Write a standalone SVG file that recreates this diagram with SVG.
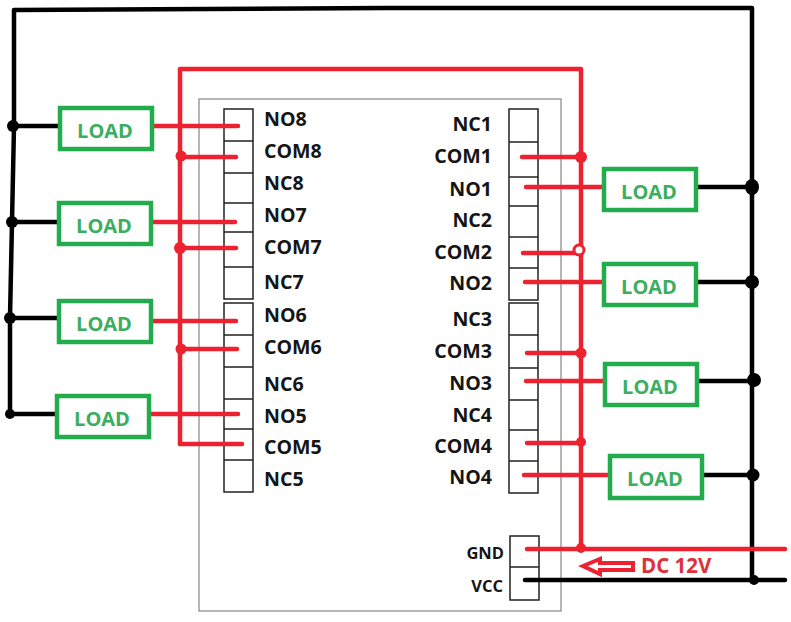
<svg xmlns="http://www.w3.org/2000/svg" width="791" height="622" viewBox="0 0 791 622">
<style>
.bg{fill:#fff}
.mod{fill:none;stroke:#858585;stroke-width:1.2}
.term{fill:#fff;stroke:#222;stroke-width:1.5}
.load{fill:#fff;stroke:#22ac4c;stroke-width:4.5}
.lt{font:bold 20px "Open Sans","Liberation Sans",sans-serif;fill:#3bae60;text-anchor:middle}
.lb{font:bold 19.6px "Open Sans","Liberation Sans",sans-serif;fill:#151515}
.s{font-size:16.5px}
.e{text-anchor:end}
.r{fill:none;stroke:#ec2230;stroke-width:4.5;stroke-linecap:round;stroke-linejoin:round}
.k{fill:none;stroke:#000;stroke-width:4.5;stroke-linecap:round;stroke-linejoin:round}
.rd{fill:#ec2230}
.kd{fill:#000}
</style>
<rect class="bg" width="791" height="622"/>
<g id="module"><rect class="mod" x="199" y="99" width="362" height="512"/></g>
<g id="terminals">
<path class="term" d="M224 109H253V299H224ZM224 141H253M224 173H253M224 203H253M224 232H253M224 267H253"/>
<path class="term" d="M224 303H253V492H224ZM224 335H253M224 367H253M224 399H253M224 429H253M224 460H253"/>
<path class="term" d="M509 109H538V300H509ZM509 142H538M509 177H538M509 206H538M509 237H538M509 268H538"/>
<path class="term" d="M509 303H538V493H509ZM509 335H538M509 368H538M509 400H538M509 430H538M509 461H538"/>
<path class="term" d="M510 536H539V600H510ZM510 567H539"/>
</g>
<g id="connectors">
<path class="k" d="M14 126V10L385 8H752V580"/>
<path class="k" d="M14 126L12 222L10 318V414"/>
<path class="k" d="M14 126H59M12 222H57M10 318H57M10 414H55"/>
<path class="k" d="M696 187H752M696 282H752M697 381H752M703 475H752"/>
<path class="k" d="M525 580H785"/>
<path class="r" d="M180 444V69H581V549"/>
<path class="r" d="M180 444L242 444"/>
<path class="r" d="M153 126H238M180 157H236M152 222H235M180 248H236M152 321H236M180 349H237M150 414H238"/>
<path class="r" d="M522 157H581M526 187H602M523 253H579M525 282H602M527 353H581M526 381H603M527 443H581M524 475H608M527 549H785"/>
<circle class="kd" cx="13" cy="126" r="6"/><circle class="kd" cx="12" cy="222" r="6"/><circle class="kd" cx="10" cy="318" r="6"/><circle class="kd" cx="10" cy="414" r="5"/>
<ellipse class="kd" cx="752" cy="187" rx="7" ry="8"/><circle class="kd" cx="752" cy="282" r="7"/><circle class="kd" cx="754" cy="380" r="7"/><circle class="kd" cx="753" cy="475" r="6.5"/><circle class="kd" cx="754" cy="580" r="5"/>
<circle class="rd" cx="181" cy="156" r="5.5"/><circle class="rd" cx="180" cy="248" r="6"/><circle class="rd" cx="181" cy="349" r="5.5"/>
<circle class="rd" cx="581" cy="157" r="6"/><circle cx="579" cy="250" r="5" fill="#fff" stroke="#ec2230" stroke-width="3"/><circle class="rd" cx="581" cy="353" r="5.5"/><circle class="rd" cx="581" cy="442" r="5"/><circle class="rd" cx="581" cy="548" r="5"/>
</g>
<g id="load-l1"><rect class="load" x="60" y="108" width="92" height="41"/><text class="lt" x="105" y="138">LOAD</text></g>
<g id="load-l2"><rect class="load" x="59" y="203" width="92" height="41"/><text class="lt" x="104" y="233">LOAD</text></g>
<g id="load-l3"><rect class="load" x="59" y="301" width="92" height="41"/><text class="lt" x="104" y="331">LOAD</text></g>
<g id="load-l4"><rect class="load" x="57" y="396" width="92" height="41"/><text class="lt" x="102" y="426">LOAD</text></g>
<g id="load-r1"><rect class="load" x="604" y="169" width="92" height="41"/><text class="lt" x="649" y="199">LOAD</text></g>
<g id="load-r2"><rect class="load" x="604" y="264" width="92" height="41"/><text class="lt" x="649" y="294">LOAD</text></g>
<g id="load-r3"><rect class="load" x="605" y="364" width="92" height="41"/><text class="lt" x="650" y="394">LOAD</text></g>
<g id="load-r4"><rect class="load" x="610" y="456" width="92" height="42"/><text class="lt" x="655" y="486">LOAD</text></g>
<g id="labels-left">
<text class="lb" x="264" y="126">NO8</text><text class="lb" x="264" y="158">COM8</text><text class="lb" x="264" y="190">NC8</text><text class="lb" x="264" y="222">NO7</text><text class="lb" x="264" y="254">COM7</text><text class="lb" x="264" y="289">NC7</text>
<text class="lb" x="264" y="322">NO6</text><text class="lb" x="264" y="354">COM6</text><text class="lb" x="264" y="391">NC6</text><text class="lb" x="264" y="423">NO5</text><text class="lb" x="264" y="454">COM5</text><text class="lb" x="264" y="486">NC5</text>
</g>
<g id="labels-right">
<text class="lb e" x="492" y="131">NC1</text><text class="lb e" x="492" y="163">COM1</text><text class="lb e" x="492" y="196">NO1</text><text class="lb e" x="492" y="227">NC2</text><text class="lb e" x="492" y="259">COM2</text><text class="lb e" x="492" y="290">NO2</text>
<text class="lb e" x="492" y="326">NC3</text><text class="lb e" x="492" y="358">COM3</text><text class="lb e" x="492" y="390">NO3</text><text class="lb e" x="492" y="422">NC4</text><text class="lb e" x="492" y="453">COM4</text><text class="lb e" x="492" y="484">NO4</text>
<text class="lb e s" x="504" y="559">GND</text><text class="lb e s" x="503" y="592">VCC</text>
</g>
<g id="dc-label">
<path d="M583 566L600 559V563H633V570H600V574Z" fill="#fff" stroke="#ec2230" stroke-width="4"/>
<text x="641" y="573" style="font:bold 20.5px 'Open Sans','Liberation Sans',sans-serif;fill:#e0303a">DC 12V</text>
</g>
</svg>
